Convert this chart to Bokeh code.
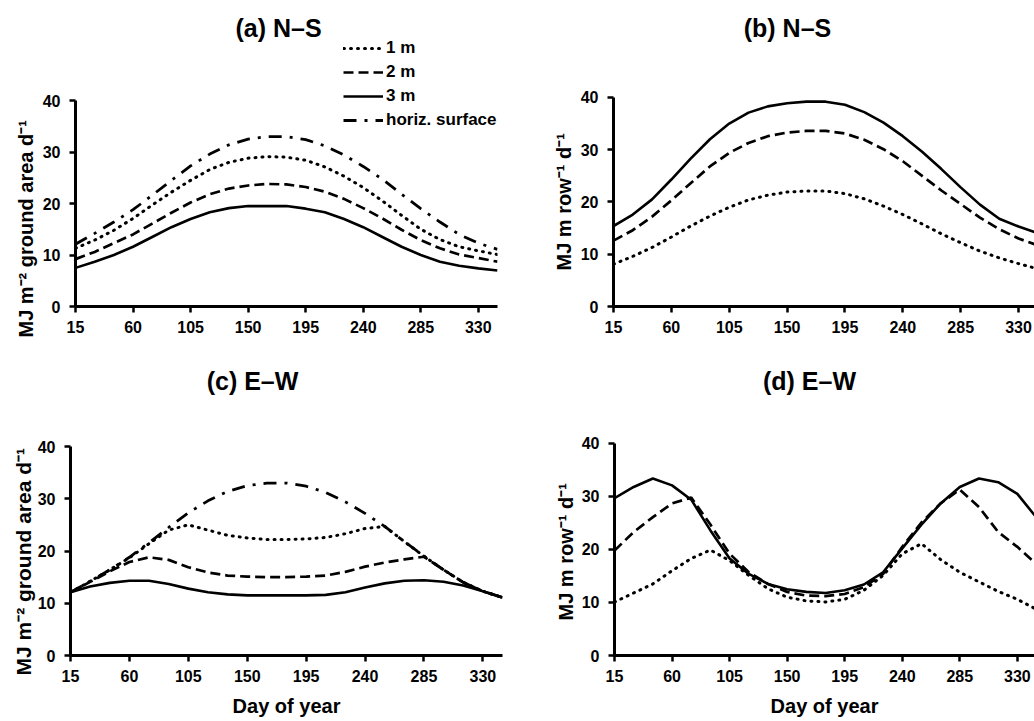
from bokeh.plotting import figure
from bokeh.models import FixedTicker, Label, Legend, LegendItem, Range1d, Title
from bokeh.layouts import row, column
from bokeh.embed import file_html
from bokeh.resources import INLINE

# ---------------- data ----------------
days = [15, 30, 45, 60, 75, 90, 105, 120, 135, 150, 165, 180,
        195, 210, 225, 240, 255, 270, 285, 300, 315, 330, 345]
x_ticks = [15, 60, 105, 150, 195, 240, 285, 330]
y_ticks = [0, 10, 20, 30, 40]

# horizontal surface (same in panels a and c)
horiz = [12.1, 14.2, 16.4, 18.8, 21.6, 24.5, 27.3, 29.6, 31.4, 32.5, 33.0, 33.0,
         32.4, 31.2, 29.4, 27.2, 24.7, 21.8, 19.0, 16.4, 14.0, 12.3, 11.1]

# (a) N-S, per ground area
a_1m = [11.3, 12.9, 14.8, 17.1, 19.7, 22.2, 24.5, 26.6, 28.0, 28.8, 29.1, 29.0,
        28.4, 27.1, 25.3, 23.1, 20.5, 17.7, 15.0, 13.0, 11.6, 10.8, 10.1]
a_2m = [9.2, 10.6, 12.3, 14.0, 16.1, 18.2, 20.2, 21.8, 22.9, 23.5, 23.8, 23.7,
        23.2, 22.3, 20.9, 19.1, 17.1, 14.9, 12.9, 11.3, 10.1, 9.4, 8.7]
a_3m = [7.5, 8.7, 10.0, 11.6, 13.5, 15.4, 17.0, 18.3, 19.1, 19.5, 19.5, 19.5,
        19.0, 18.3, 17.0, 15.4, 13.5, 11.6, 10.0, 8.7, 7.9, 7.4, 7.0]

# (b) N-S, per row
b_1m = [8.1, 9.6, 11.3, 13.3, 15.4, 17.3, 19.0, 20.4, 21.3, 21.9, 22.1, 22.1,
        21.6, 20.6, 19.2, 17.6, 15.8, 13.9, 12.2, 10.6, 9.3, 8.2, 7.2]
b_2m = [12.6, 14.6, 17.2, 20.3, 23.6, 26.8, 29.4, 31.3, 32.6, 33.3, 33.6, 33.6,
        33.1, 31.9, 30.1, 27.8, 25.0, 22.2, 19.6, 17.0, 14.8, 13.0, 11.7]
b_3m = [15.4, 17.6, 20.5, 24.3, 28.3, 32.0, 35.0, 37.1, 38.3, 38.9, 39.2, 39.2,
        38.6, 37.2, 35.2, 32.6, 29.6, 26.3, 22.8, 19.5, 16.8, 15.3, 14.0]

# (c) E-W, per ground area
c_1m = [12.1, 14.2, 16.4, 18.7, 21.4, 24.0, 25.0, 24.0, 23.0, 22.5, 22.2, 22.2,
        22.3, 22.6, 23.3, 24.3, 24.7, 21.8, 19.0, 16.4, 14.0, 12.3, 11.1]
c_2m = [12.1, 14.1, 16.1, 17.9, 18.8, 18.3, 16.9, 15.9, 15.3, 15.1, 15.0, 15.0,
        15.1, 15.3, 16.0, 17.0, 17.8, 18.4, 18.9, 16.4, 14.0, 12.3, 11.1]
c_3m = [12.1, 13.2, 13.9, 14.3, 14.3, 13.7, 12.8, 12.1, 11.7, 11.5, 11.5, 11.5,
        11.5, 11.6, 12.1, 13.0, 13.8, 14.3, 14.4, 14.1, 13.4, 12.3, 11.1]

# (d) E-W, per row
d_1m = [10.1, 11.8, 13.5, 16.0, 18.3, 19.9, 17.9, 15.1, 12.6, 11.0, 10.3, 10.1,
        10.6, 12.3, 15.1, 19.2, 21.1, 18.1, 15.7, 13.9, 12.1, 10.6, 8.7]
d_2m = [19.8, 23.3, 26.1, 28.7, 29.8, 24.7, 19.2, 15.7, 13.5, 12.0, 11.3, 11.2,
        11.6, 12.9, 15.4, 20.5, 25.1, 28.7, 31.3, 28.0, 23.3, 20.5, 17.2]
d_3m = [29.7, 31.8, 33.4, 32.1, 29.4, 23.6, 18.3, 15.4, 13.5, 12.5, 12.0, 11.8,
        12.3, 13.4, 15.7, 20.2, 24.7, 28.7, 31.8, 33.4, 32.7, 30.5, 26.0]

legend_labels = ["1 m", "2 m", "3 m", "horiz. surface"]

# ---------------- styling ----------------
FONT = "Liberation Sans"
STY = {
    "dot": dict(line_dash="1 6", line_cap="round", line_width=3.0),
    "dash": dict(line_dash="10 5", line_width=2.7),
    "solid": dict(line_width=2.6),
    "dashdot": dict(line_dash="13 8 3 8", line_width=2.8),
}
HAS_STANDOFF = "standoff" in Title.properties()


def make_fig(width, height, bl, br, bb, x_end, y_end, ylabel, ylabel_offset,
             ylabel_standoff, ylabel_size="20px", xlabel=None, xlabel_standoff=5):
    p = figure(width=width, height=height, output_backend="svg",
               toolbar_location=None,
               x_range=Range1d(15, x_end), y_range=Range1d(0, y_end),
               min_border_left=bl, min_border_right=br,
               min_border_top=0, min_border_bottom=bb)
    p.outline_line_color = None
    p.grid.visible = False
    p.background_fill_color = "white"
    p.border_fill_color = "white"
    for ax in (p.xaxis[0], p.yaxis[0]):
        ax.axis_line_width = 3
        ax.axis_line_color = "black"
        ax.major_tick_line_width = 2.5
        ax.major_tick_line_color = "black"
        ax.major_tick_out = 6
        ax.major_tick_in = 0
        ax.minor_tick_line_color = None
        ax.major_label_text_font = FONT
        ax.major_label_text_font_style = "bold"
        ax.major_label_text_font_size = "16px"
        ax.major_label_text_color = "black"
    p.xaxis[0].ticker = FixedTicker(ticks=x_ticks)
    p.yaxis[0].ticker = FixedTicker(ticks=y_ticks)
    p.yaxis[0].bounds = (0, 40)
    p.xaxis[0].major_label_standoff = 8
    p.yaxis[0].major_label_standoff = 9
    if xlabel:
        ax = p.xaxis[0]
        ax.axis_label = xlabel
        ax.axis_label_text_font = FONT
        ax.axis_label_text_font_style = "bold"
        ax.axis_label_text_font_size = "20px"
        ax.axis_label_text_color = "black"
        ax.axis_label_standoff = xlabel_standoff
    kw = dict(text=ylabel, align="left", offset=ylabel_offset,
              text_font=FONT, text_font_style="bold", text_font_size=ylabel_size,
              text_color="black")
    if HAS_STANDOFF:
        kw["standoff"] = ylabel_standoff
    p.add_layout(Title(**kw), "left")
    return p


def add_title(p, text, sx, sy):
    p.add_layout(Label(x=sx, y=sy, x_units="screen", y_units="screen",
                       text=text, text_font=FONT, text_font_style="bold",
                       text_font_size="25px", text_color="black",
                       text_align="center", text_baseline="middle"))


def draw(p, series):
    rs = []
    for ys, key in series:
        rs.append(p.line(days, ys, line_color="black", **STY[key]))
    return rs


GROUND = "MJ m⁻² ground area d⁻¹"
ROW = "MJ m row⁻¹ d⁻¹"

# (a)
pa = make_fig(510, 360, 75, 13, 54, 345, 59.42, GROUND, -31, 6)
ra = draw(pa, [(a_1m, "dot"), (a_2m, "dash"), (a_3m, "solid"), (horiz, "dashdot")])
add_title(pa, "(a) N–S", 203, 279)
leg = Legend(items=[LegendItem(label=l, renderers=[r]) for l, r in zip(legend_labels, ra)],
             location=(268, 176), padding=0, margin=0, spacing=4,
             label_height=20, glyph_height=20, glyph_width=40, label_standoff=3,
             label_text_font=FONT, label_text_font_style="bold",
             label_text_font_size="17px", label_text_color="black",
             border_line_alpha=0, background_fill_alpha=0)
pa.add_layout(leg)

# (b)
pb = make_fig(524, 360, 103, 0, 54, 342.4, 58.56, ROW, 36, 5)
draw(pb, [(b_1m, "dot"), (b_2m, "dash"), (b_3m, "solid")])
add_title(pb, "(b) N–S", 174, 279)

# (c)
pc = make_fig(510, 361, 70, 8, 66, 345, 56.46, GROUND, -20, 0, ylabel_size="21px",
              xlabel="Day of year", xlabel_standoff=10)
draw(pc, [(horiz, "dashdot"), (c_1m, "dot"), (c_2m, "dash"), (c_3m, "solid")])
add_title(pc, "(c) E–W", 182, 275)

# (d)
pd_ = make_fig(524, 361, 104, 0, 66, 343.4, 55.66, ROW, 35, 4,
               xlabel="Day of year", xlabel_standoff=10)
draw(pd_, [(d_1m, "dot"), (d_2m, "dash"), (d_3m, "solid")])
add_title(pd_, "(d) E–W", 195, 275)

layout = column(row(pa, pb), row(pc, pd_))
open("out.html", "w").write(file_html(layout, INLINE))
